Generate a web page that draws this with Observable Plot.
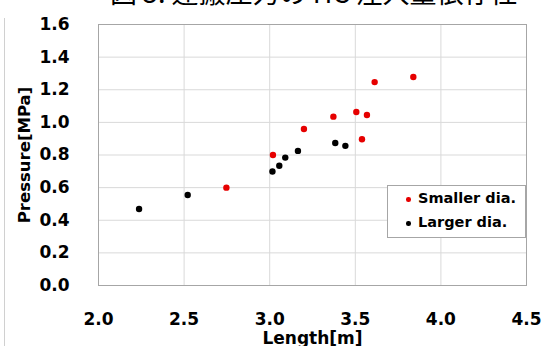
<!DOCTYPE html>
<html><head><meta charset="utf-8">
<script src="https://cdn.jsdelivr.net/npm/d3@7"></script>
<script src="https://cdn.jsdelivr.net/npm/@observablehq/plot@0.6"></script>
<style>
html,body{margin:0;padding:0;background:#fff;}
#wrap{position:relative;width:544px;height:346px;overflow:hidden;font-family:"DejaVu Sans",sans-serif;}
#title{position:absolute;left:110px;top:-28px;font-family:"Noto Sans CJK JP";font-size:27px;white-space:nowrap;color:#000;}
#edge{position:absolute;left:4px;top:18px;width:1px;height:340px;background:#d0d0d0;}
#legend{position:absolute;left:387px;top:185px;width:139px;height:53px;background:#fff;border:1px solid #a6a6a6;box-sizing:border-box;font-weight:700;font-size:14.5px;}
#legend div{position:absolute;left:30px;white-space:nowrap;}
#legend span{position:absolute;left:-12px;top:7px;width:4.5px;height:4.5px;border-radius:50%;}
</style></head>
<body><div id="wrap"><div id="title">図 5: 運搬圧力の HC 注入量依存性</div><div id="edge"></div><div id="chart"></div>
<div id="legend"><div style="top:4px"><span style="background:#e60000"></span>Smaller dia.</div><div style="top:28px"><span style="background:#000"></span>Larger dia.</div></div></div>
<script>
const smallerLength = [2.747, 3.019, 3.200, 3.372, 3.506, 3.539, 3.568, 3.613, 3.839];
const smallerPressure = [0.600, 0.800, 0.959, 1.035, 1.064, 0.897, 1.045, 1.247, 1.278];
const largerLength = [2.237, 2.521, 3.016, 3.056, 3.091, 3.165, 3.383, 3.442];
const largerPressure = [0.469, 0.555, 0.699, 0.734, 0.784, 0.825, 0.874, 0.856];
const xTicks = [2.0, 2.5, 3.0, 3.5, 4.0, 4.5];
const yTicks = [0, 0.2, 0.4, 0.6, 0.8, 1.0, 1.2, 1.4, 1.6];
const xTitle = "Length[m]";
const yTitle = "Pressure[MPa]";

const smaller = smallerLength.map((x, i) => ({x, y: smallerPressure[i]}));
const larger = largerLength.map((x, i) => ({x, y: largerPressure[i]}));

const chart = Plot.plot({
  width: 544, height: 346,
  marginLeft: 98, marginRight: 18, marginTop: 24, marginBottom: 61,
  style: {fontFamily: "'DejaVu Sans', sans-serif", fontSize: "17px", fontWeight: "700", color: "#000", background: "transparent"},
  x: {domain: [2.0, 4.5], ticks: xTicks, tickFormat: d3.format(".1f"), tickSize: 0, tickPadding: 27, label: null},
  y: {domain: [0, 1.6], ticks: yTicks, tickFormat: d3.format(".1f"), tickSize: 0, tickPadding: 29, label: null},
  marks: [
    Plot.gridX(xTicks, {stroke: "#d9d9d9", strokeOpacity: 1}),
    Plot.gridY(yTicks, {stroke: "#d9d9d9", strokeOpacity: 1}),
    Plot.frame({stroke: "#a6a6a6"}),
    Plot.dot(smaller, {x: "x", y: "y", r: 3.2, fill: "#e60000", stroke: "none"}),
    Plot.dot(larger, {x: "x", y: "y", r: 3.2, fill: "#000", stroke: "none"}),
    Plot.text([xTitle], {text: d => d, frameAnchor: "bottom", dy: 53, textAnchor: "middle", lineAnchor: "middle", fontSize: 17, fontWeight: 700, fill: "#000"}),
    Plot.text([yTitle], {text: d => d, frameAnchor: "left", dx: -74, rotate: -90, textAnchor: "middle", lineAnchor: "middle", fontSize: 16.5, fontWeight: 700, fill: "#000"})
  ]
});
document.getElementById("chart").appendChild(chart);
</script></body></html>
